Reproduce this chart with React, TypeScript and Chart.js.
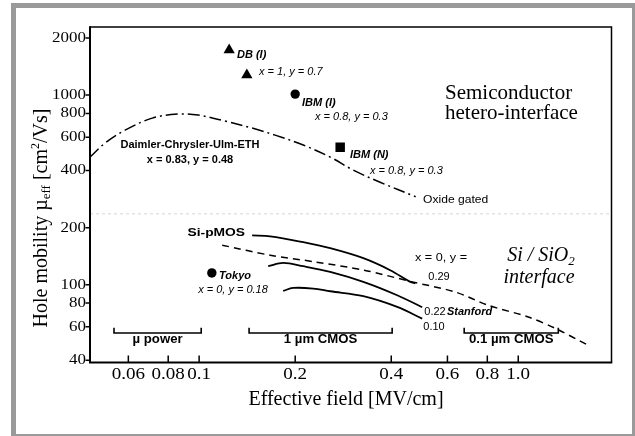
import React, { useEffect, useRef } from 'react';
import { Chart, registerables } from 'chart.js';

Chart.register(...registerables);

// ---------- axes ----------
const X_MIN = 0.0455;
const X_MAX = 1.96;
const Y_MIN = 38.9;
const Y_MAX = 2285;
const X_TICKS = [0.06, 0.08, 0.1, 0.2, 0.4, 0.6, 0.8, 1.0];
const X_TICK_LABELS = ['0.06', '0.08', '0.1', '0.2', '0.4', '0.6', '0.8', '1.0'];
const Y_TICKS = [40, 60, 80, 100, 200, 400, 600, 800, 1000, 2000];
const Y_TICK_LABELS = ['40', '60', '80', '100', '200', '400', '600', '800', '1000', '2000'];

// ---------- hetero-interface: Daimler-Chrysler-Ulm-ETH, oxide gated (dash-dot) ----------
const OXIDE_X = [0.0455, 0.0507, 0.0586, 0.0713, 0.0859, 0.0993, 0.1206, 0.1466, 0.173, 0.212, 0.2575, 0.304, 0.369, 0.477];
const OXIDE_Y = [471, 558, 653, 756, 794, 784, 729, 670, 615, 545, 471, 402, 347, 291];

// ---------- single measurements ----------
const DB_X = [0.1242, 0.1411];
const DB_Y = [1728, 1275];
const IBM_I_X = [0.2];
const IBM_I_Y = [1012];
const IBM_N_X = [0.2767];
const IBM_N_Y = [530];
const TOKYO_X = [0.1096];
const TOKYO_Y = [115.4];

// ---------- Si-pMOS (Stanford) curves, y = 0.29 / 0.22 / 0.10 ----------
const S29_X = [0.1466, 0.167, 0.212, 0.2575, 0.327, 0.397, 0.459, 0.476];
const S29_Y = [182, 180, 167.6, 155.8, 138, 119.3, 103.5, 101.8];
const S22_X = [0.1646, 0.1834, 0.212, 0.2575, 0.327, 0.4175, 0.5];
const S22_Y = [125.2, 130.3, 125.2, 116.8, 103.5, 88.0, 76.1];
const S10_X = [0.1834, 0.197, 0.2277, 0.2575, 0.327, 0.4175, 0.5];
const S10_Y = [92.7, 96.2, 95.5, 92.4, 87.0, 76.4, 66.3];

// ---------- Si / SiO2 universal (dashed) ----------
const SIO2_X = [0.1181, 0.167, 0.2311, 0.329, 0.4654, 0.6346, 0.805, 1.075, 1.306, 1.658];
const SIO2_Y = [161.6, 143.1, 131.9, 119.3, 103.5, 91.6, 77.9, 67.6, 58.9, 47.9];

// ---------- application ranges ----------
const RANGE_NAMES = ['\u00b5 power', '1 \u00b5m CMOS', '0.1 \u00b5m CMOS'];
const RANGE_LO = [0.0541, 0.1434, 0.677];
const RANGE_HI = [0.1015, 0.4026, 1.335];
const BRACKET_BASE = 55.7;
const BRACKET_TIP = 59.4;

// ---------- region separator ----------
const SEPARATOR_Y = 236.4;

const SERIF = '"Liberation Serif", "Times New Roman", serif';
const SANS = '"Liberation Sans", Arial, sans-serif';

const pts = (xs: number[], ys: number[]) => xs.map((x, i) => ({ x, y: ys[i] }));

type Seg = { t: string; font: string; dy?: number };

function drawText(
  ctx: CanvasRenderingContext2D,
  s: string,
  x: number,
  y: number,
  font: string,
  align: CanvasTextAlign = 'left',
  sx = 1,
  baseline: CanvasTextBaseline = 'middle'
) {
  ctx.save();
  ctx.font = font;
  ctx.fillStyle = '#000';
  ctx.textBaseline = baseline;
  ctx.textAlign = align;
  ctx.translate(x, y);
  ctx.scale(sx, 1);
  ctx.fillText(s, 0, 0);
  ctx.restore();
}

function drawRich(ctx: CanvasRenderingContext2D, segs: Seg[], align: 'left' | 'center' | 'right', sx = 1) {
  ctx.save();
  ctx.scale(sx, 1);
  let total = 0;
  const widths: number[] = [];
  for (const s of segs) {
    ctx.font = s.font;
    const w = ctx.measureText(s.t).width;
    widths.push(w);
    total += w;
  }
  let cx = align === 'center' ? -total / 2 : align === 'right' ? -total : 0;
  ctx.textAlign = 'left';
  ctx.textBaseline = 'alphabetic';
  ctx.fillStyle = '#000';
  segs.forEach((s, i) => {
    ctx.font = s.font;
    ctx.fillText(s.t, cx, s.dy || 0);
    cx += widths[i];
  });
  ctx.restore();
}

const decorPlugin = {
  id: 'decor',
  beforeDraw(chart: any) {
    const ctx: CanvasRenderingContext2D = chart.ctx;
    ctx.save();
    ctx.fillStyle = '#ffffff';
    ctx.fillRect(0, 0, chart.width, chart.height);
    ctx.strokeStyle = '#9a9a9a';
    ctx.lineWidth = 5;
    ctx.strokeRect(13.5, 5.5, 621, 431);
    ctx.restore();
  },
  afterDraw(chart: any) {
    const ctx: CanvasRenderingContext2D = chart.ctx;
    const { left, right, top, bottom } = chart.chartArea;
    const xs = chart.scales.x;
    const ys = chart.scales.y;
    ctx.save();
    ctx.strokeStyle = '#000';
    // plot frame
    ctx.lineWidth = 1.5;
    ctx.beginPath();
    ctx.moveTo(left, top);
    ctx.lineTo(right, top);
    ctx.lineTo(right, bottom);
    ctx.stroke();
    ctx.lineWidth = 2;
    ctx.beginPath();
    ctx.moveTo(left, top - 0.75);
    ctx.lineTo(left, bottom);
    ctx.lineTo(right + 0.75, bottom);
    ctx.stroke();
    // tick marks
    ctx.lineWidth = 1.5;
    ctx.beginPath();
    Y_TICKS.forEach((v) => {
      const p = ys.getPixelForValue(v);
      ctx.moveTo(left - 4.5, p);
      ctx.lineTo(left, p);
    });
    X_TICKS.forEach((v) => {
      const p = xs.getPixelForValue(v);
      ctx.moveTo(p, bottom);
      ctx.lineTo(p, bottom - 7);
    });
    ctx.stroke();
    ctx.restore();

    // tick labels
    Y_TICKS.forEach((v, i) => {
      drawText(ctx, Y_TICK_LABELS[i], left - 4, ys.getPixelForValue(v), `15px ${SERIF}`, 'right', 1.13);
    });
    X_TICKS.forEach((v, i) => {
      drawText(ctx, X_TICK_LABELS[i], xs.getPixelForValue(v), bottom + 12.5, `17px ${SERIF}`, 'center', 1.12);
    });

    // axis titles
    drawText(ctx, 'Effective field [MV/cm]', 346, 400, `20px ${SERIF}`, 'center');
    ctx.save();
    ctx.translate(47, 218);
    ctx.rotate(-Math.PI / 2);
    drawRich(
      ctx,
      [
        { t: 'Hole mobility \u00b5', font: `20px ${SERIF}` },
        { t: 'eff', font: `13px ${SERIF}`, dy: 3 },
        { t: ' [cm', font: `20px ${SERIF}` },
        { t: '2', font: `12px ${SERIF}`, dy: -8 },
        { t: '/Vs]', font: `20px ${SERIF}` },
      ],
      'center'
    );
    ctx.restore();

    // region labels
    drawText(ctx, 'Semiconductor', 445, 99, `21px ${SERIF}`, 'left', 1, 'alphabetic');
    drawText(ctx, 'hetero-interface', 445, 119, `21px ${SERIF}`, 'left', 1, 'alphabetic');
    ctx.save();
    ctx.translate(541, 261);
    drawRich(
      ctx,
      [
        { t: 'Si / SiO', font: `italic 20px ${SERIF}` },
        { t: '2', font: `italic 13px ${SERIF}`, dy: 4 },
      ],
      'center'
    );
    ctx.restore();
    drawText(ctx, 'interface', 539, 283, `italic 20px ${SERIF}`, 'center', 1, 'alphabetic');

    // annotations
    const bi = `italic bold 10px ${SANS}`;
    const it = `italic 10px ${SANS}`;
    drawText(ctx, 'Daimler-Chrysler-Ulm-ETH', 190, 145, `bold 10.5px ${SANS}`, 'center', 1.05);
    drawText(ctx, 'x = 0.83, y = 0.48', 190, 160, `bold 10.5px ${SANS}`, 'center', 1.05);
    drawText(ctx, 'DB (I)', 237, 55, bi, 'left', 1.1);
    drawText(ctx, 'x = 1, y = 0.7', 259, 72, it, 'left', 1.1);
    drawText(ctx, 'IBM (I)', 302, 103, bi, 'left', 1.1);
    drawText(ctx, 'x = 0.8, y = 0.3', 315, 117, it, 'left', 1.1);
    drawText(ctx, 'IBM (N)', 350, 155, bi, 'left', 1.1);
    drawText(ctx, 'x = 0.8, y = 0.3', 370, 171.5, it, 'left', 1.1);
    drawText(ctx, 'Oxide gated', 423, 200, `11px ${SANS}`, 'left', 1.1);
    drawText(ctx, 'Si-pMOS', 245, 233, `bold 11.5px ${SANS}`, 'right', 1.2);
    drawText(ctx, 'Tokyo', 219, 276, bi, 'left', 1.1);
    drawText(ctx, 'x = 0, y = 0.18', 233, 290, it, 'center', 1.1);
    drawText(ctx, 'x = 0, y =', 441, 258, `11px ${SANS}`, 'center', 1.15);
    drawText(ctx, '0.29', 439, 277, `10px ${SANS}`, 'center', 1.1);
    drawText(ctx, '0.22', 435, 312, `10px ${SANS}`, 'center', 1.1);
    drawText(ctx, 'Stanford', 447, 312, bi, 'left', 1.1);
    drawText(ctx, '0.10', 434, 327, `10px ${SANS}`, 'center', 1.1);

    // range labels, centered under their brackets
    RANGE_NAMES.forEach((name, i) => {
      const cx = (xs.getPixelForValue(RANGE_LO[i]) + xs.getPixelForValue(RANGE_HI[i])) / 2;
      drawText(ctx, name, cx, ys.getPixelForValue(BRACKET_BASE) + 7, `bold 12px ${SANS}`, 'center', 1.1);
    });
  },
};

export default function App() {
  const ref = useRef<HTMLCanvasElement>(null);
  useEffect(() => {
    const canvas = ref.current;
    if (!canvas) return;
    const line = (data: any, width: number, dash: number[], tension: number) => ({
      data,
      showLine: true,
      borderColor: '#000',
      backgroundColor: '#000',
      borderWidth: width,
      borderDash: dash,
      pointRadius: 0,
      pointHoverRadius: 0,
      tension,
    });
    const marker = (data: any, style: string, radius: number) => ({
      data,
      showLine: false,
      pointStyle: style,
      pointRadius: radius,
      pointHoverRadius: radius,
      pointBackgroundColor: '#000',
      pointBorderColor: '#000',
      pointBorderWidth: 0,
    });
    const datasets: any[] = [
      {
        ...line(
          [
            { x: X_MIN, y: SEPARATOR_Y },
            { x: X_MAX, y: SEPARATOR_Y },
          ],
          1,
          [3, 3],
          0
        ),
        borderColor: '#d4d4d4',
      },
      line(pts(OXIDE_X, OXIDE_Y), 1.5, [12, 4, 2, 4], 0.35),
      line(pts(S29_X, S29_Y), 1.8, [], 0.35),
      line(pts(S22_X, S22_Y), 1.8, [], 0.35),
      line(pts(S10_X, S10_Y), 1.8, [], 0.35),
      line(pts(SIO2_X, SIO2_Y), 1.5, [7, 5], 0.3),
      ...RANGE_LO.map((lo, i) =>
        line(
          [
            { x: lo, y: BRACKET_TIP },
            { x: lo, y: BRACKET_BASE },
            { x: RANGE_HI[i], y: BRACKET_BASE },
            { x: RANGE_HI[i], y: BRACKET_TIP },
          ],
          1.6,
          [],
          0
        )
      ),
      marker(pts(DB_X, DB_Y), 'triangle', 6.5),
      marker(pts(IBM_I_X, IBM_I_Y), 'circle', 4.7),
      marker(pts(IBM_N_X, IBM_N_Y), 'rect', 6.7),
      marker(pts(TOKYO_X, TOKYO_Y), 'circle', 4.7),
    ];
    const chart = new Chart(canvas, {
      type: 'scatter',
      data: { datasets },
      options: {
        responsive: false,
        animation: false,
        events: [],
        layout: { padding: { left: 0, top: 27, right: 23.5, bottom: 0 } },
        plugins: { legend: { display: false }, tooltip: { enabled: false } },
        scales: {
          x: {
            type: 'logarithmic',
            min: X_MIN,
            max: X_MAX,
            grid: { display: false },
            border: { display: false },
            ticks: { display: false },
            afterFit: (s: any) => {
              s.height = 73.5;
            },
          },
          y: {
            type: 'logarithmic',
            min: Y_MIN,
            max: Y_MAX,
            grid: { display: false },
            border: { display: false },
            ticks: { display: false },
            afterFit: (s: any) => {
              s.width = 90;
            },
          },
        },
      } as any,
      plugins: [decorPlugin],
    });
    return () => chart.destroy();
  }, []);
  return (
    <div style={{ position: 'absolute', left: 0, top: 0, width: 635, height: 436, background: '#fff' }}>
      <canvas ref={ref} width={635} height={436} style={{ display: 'block' }} />
    </div>
  );
}
